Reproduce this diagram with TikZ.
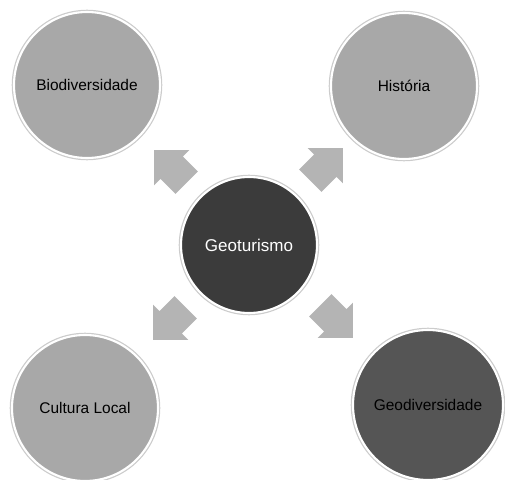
\documentclass[tikz,border=0pt]{standalone}
\usepackage{fontspec}
\setmainfont{Liberation Sans}
\usetikzlibrary{shapes.arrows}

\definecolor{svetlyj}{HTML}{A8A8A8} % светлые круги
\definecolor{temnyj}{HTML}{3B3B3B}  % центральный круг
\definecolor{sredn}{HTML}{555555}   % тёмный внешний круг
\definecolor{strelgray}{HTML}{B4B4B4} % стрелки

\tikzset{
    krug/.style = {circle, minimum size = 2.92cm, inner sep = 0pt, fill = svetlyj,
        draw = white, line width = 1.2pt, preaction = {draw = black!20, line width = 2.6pt},
        font = \fontsize{8.8}{10}\selectfont},
    strelka/.style = {single arrow, fill = strelgray, minimum height = 0.92cm,
        inner xsep = 0pt, inner ysep = 0.31cm, single arrow head extend = 0.18cm,
        single arrow tip angle = 90}
}

\begin{document}
\begin{tikzpicture}[x = 0.02cm, y = -0.02cm]
    \useasboundingbox (0, 0) rectangle (505, 480); % Размер картинки

    \node [krug, minimum size = 2.72cm, fill = temnyj, text = white,
        font = \fontsize{9.7}{11}\selectfont] (geo) at (249, 245) {Geoturismo}; % Центр

    \node [krug] (bio) at (87, 85) {Biodiversidade};
    \node [krug] (hist) at (404, 86) {História};
    \node [krug] (cult) at (85, 408) {Cultura Local};
    \node [krug, fill = sredn, minimum size = 3cm] (geod) at (428, 405) {Geodiversidade};

    % Стрелки от центра
    \node [strelka, rotate = 135] (sBio) at (176, 172) {};
    \node [strelka, rotate = 45] (sHist) at (321, 170) {};
    \node [strelka, rotate = 225] (sCult) at (175, 318) {};
    \node [strelka, rotate = -45] (sGeod) at (331, 316) {};
\end{tikzpicture}
\end{document}
